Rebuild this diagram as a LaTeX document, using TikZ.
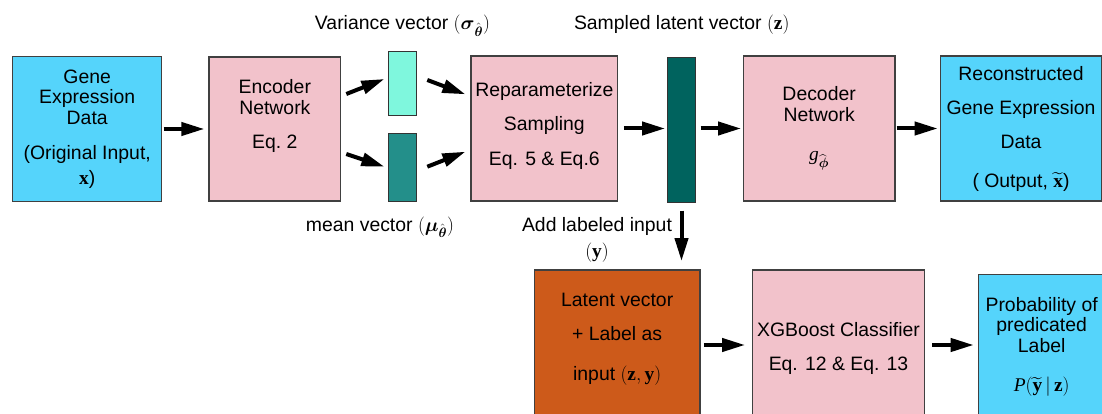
\RequirePackage{fix-cm}
\documentclass[tikz,border=0pt]{standalone}
\usepackage{amsmath}
\usepackage{amssymb}
\usepackage[no-math]{fontspec}
\setmainfont{Liberation Sans}
\newfontfamily\tnr{Liberation Serif}
\usetikzlibrary{arrows.meta}

% bold serif vectors and italic serif letters
\newcommand{\bvec}[1]{\text{\tnr\bfseries #1}}
\newcommand{\ivar}[1]{\text{\tnr\itshape #1}}

\definecolor{skyblue}{RGB}{85,212,251}
\definecolor{pinkbox}{RGB}{242,194,203}
\definecolor{aqua}{RGB}{127,247,221}
\definecolor{tealbar}{RGB}{35,143,138}
\definecolor{darkteal}{RGB}{0,99,94}
\definecolor{rust}{RGB}{205,90,26}

\tikzset{
	box/.style={draw=black!75, line width=1.2pt, inner sep=0pt, align=center, text depth=5pt},
	vec/.style={draw=black!80, line width=1.2pt, minimum width=28.4pt, inner sep=0pt},
	arr/.style={-{Triangle[length=23pt,width=13pt]}, line width=4pt},
}

\begin{document}
\begin{tikzpicture}[x=1pt, y=-1pt, font=\fontsize{19.4}{20.5}\selectfont]
		\useasboundingbox (0,0) rectangle (1102,414);
		% top row: encoder side
		\node[box, fill=skyblue, minimum width=149pt, minimum height=144.6pt, text height=115.6pt] (input) at (87.2,129) {Gene\\Expression\\Data\\[14.5pt](Original Input,\\[4.5pt]$\bvec{x}$)};
		\node[box, fill=pinkbox, minimum width=131.7pt, minimum height=144pt, text height=43.6pt] (encoder) at (274.85,129) {Encoder\\Network\\[13.5pt]Eq.~2};
		\node[vec, fill=aqua, minimum height=64pt] (sigma) at (402.5,83.7) {};
		\node[vec, fill=tealbar, minimum height=68pt] (mu) at (402.5,167.3) {};
		\node[box, fill=pinkbox, minimum width=146.7pt, minimum height=145pt, text height=79.4pt] (reparam) at (544.35,128.5) {Reparameterize\\[13.5pt]Sampling\\[14.5pt]Eq. 5 \& Eq.6};
		\node[vec, fill=darkteal, minimum height=145pt] (latent) at (681.5,129.8) {};
		% top row: decoder side
		\node[box, fill=pinkbox, minimum width=151.7pt, minimum height=145pt, text height=70pt] (decoder) at (819.15,128.5) {Decoder\\Network\\[19pt]$\ivar{g}_{\widehat{\boldsymbol{\phi}}}$};
		\node[box, fill=skyblue, minimum width=161.4pt, minimum height=145pt, text height=122.6pt] (output) at (1021,128.5) {Reconstructed\\[13.5pt]Gene Expression\\[13pt]Data\\[18.5pt]( Output, $\widetilde{\bvec{x}}$)};
		% bottom row: classifier
		\node[box, fill=rust, minimum width=165.7pt, minimum height=150pt, text height=75pt] (zy) at (617.15,345) {Latent vector\\[14pt]+ Label as\\[19pt]input $(\bvec{z},\bvec{y})$};
		\node[box, fill=pinkbox, minimum width=171.6pt, minimum height=150pt, text height=56.4pt] (xgb) at (838.5,345) {XGBoost Classifier\\[13.5pt]Eq. 12 \& Eq. 13};
		\node[box, fill=skyblue, minimum width=126.7pt, minimum height=145.7pt, text height=94.1pt] (prob) at (1041.65,347.15) {Probability of\\predicated\\Label\\[19pt]$\ivar{P}(\widetilde{\bvec{y}}\,|\,\bvec{z})$};
		% captions
		\node[anchor=base] (sigmalbl) at (402.5,30) {Variance vector $(\boldsymbol{\sigma}_{\hat{\boldsymbol{\theta}}})$};
		\node[anchor=base] (zlbl) at (681.7,30) {Sampled latent vector $(\bvec{z})$};
		\node[anchor=base] (mulbl) at (380,231) {mean vector $(\boldsymbol{\mu}_{\hat{\boldsymbol{\theta}}})$};
		\node[anchor=base, align=center] (addlbl) at (597,257.3) {Add labeled input\\[5pt]$(\bvec{y})$};
		% arrows
		\draw[arr, shorten <=1.3pt, shorten >=4pt] (input) -- (encoder);
		\draw[arr] ([shift={(5,-35)}]encoder.east) -- ([shift={(-3.3,-4.7)}]sigma.west);
		\draw[arr] ([shift={(5,25)}]encoder.east) -- ([shift={(-3.3,-0.6)}]mu.west);
		\draw[arr] ([shift={(10,-3.7)}]sigma.east) -- ([shift={(-5,-34.2)}]reparam.west);
		\draw[arr] ([shift={(10,-0.6)}]mu.east) -- ([shift={(-5,23.2)}]reparam.west);
		\draw[arr, shorten <=5.6pt, shorten >=1.6pt] (reparam.east) -- (latent.west |- reparam.east);
		\draw[arr, shorten <=4.3pt, shorten >=1.6pt] (latent.east |- decoder.west) -- (decoder.west);
		\draw[arr, shorten <=1pt, shorten >=2pt] (decoder) -- (output);
		\draw[arr] ([yshift=-7.7pt]latent.south) -- ([yshift=8.3pt]latent.south |- zy.north);
		\draw[arr, shorten <=3.3pt, shorten >=7pt] (zy) -- (xgb);
		\draw[arr, shorten <=7.4pt, shorten >=4pt] (xgb.east) -- (xgb.east -| prob.west);
\end{tikzpicture}
\end{document}
